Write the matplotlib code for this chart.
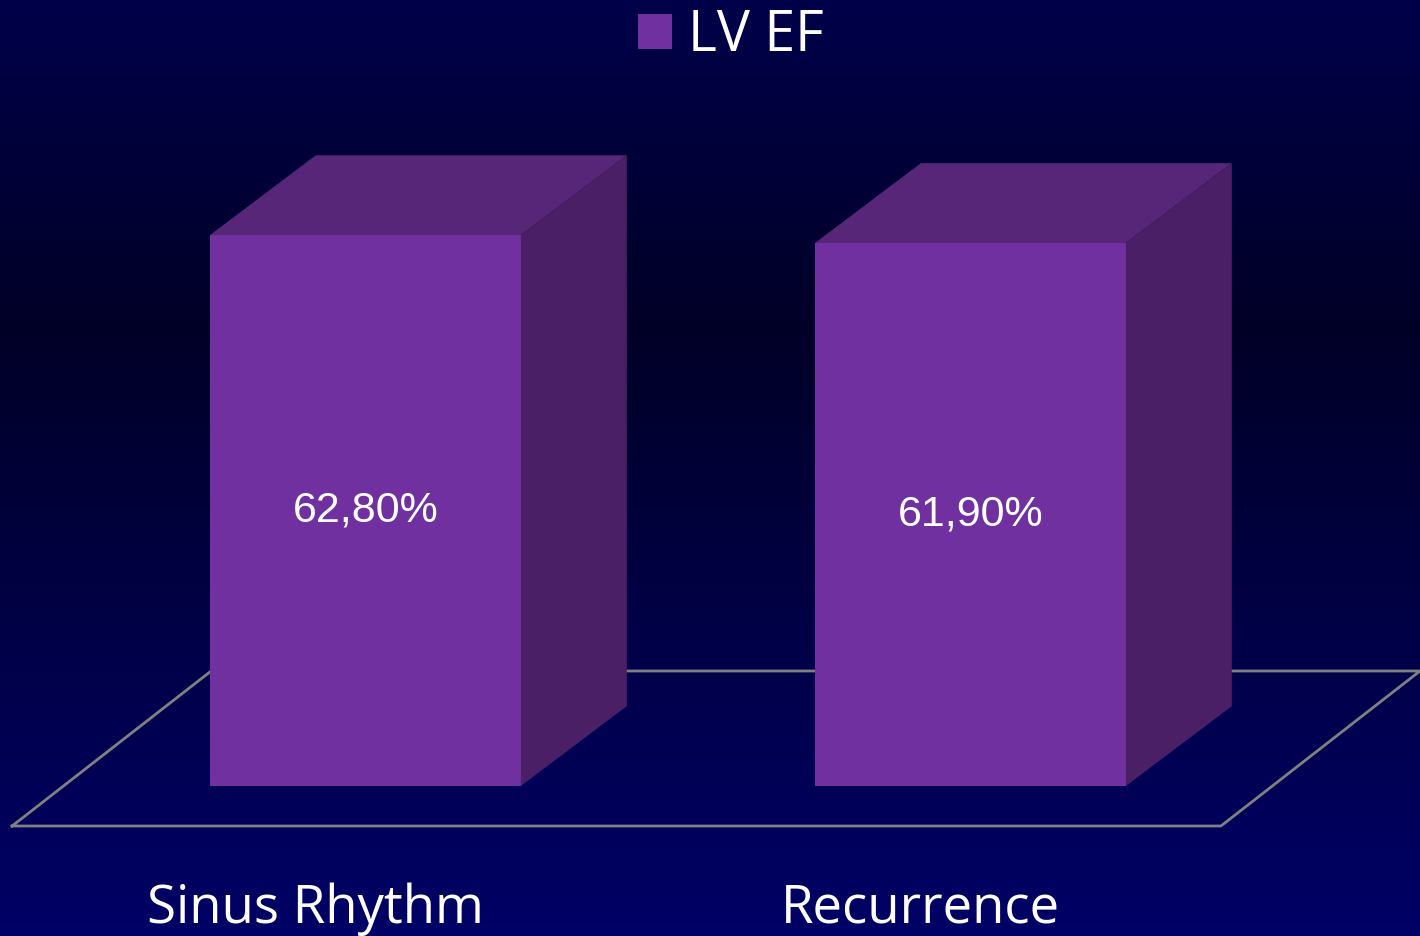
import numpy as np
import matplotlib
matplotlib.use("Agg")
import matplotlib.pyplot as plt
from matplotlib.colors import LinearSegmentedColormap
from matplotlib.patches import Polygon

# data
categories = ["Sinus Rhythm", "Recurrence"]
lv_ef = [62.8, 61.9]
series_name = "LV EF"

# colours
FRONT = "#7030A0"
TOP = "#572679"
SIDE = "#4A1F66"
FLOOR_LINE = "#808080"

# 3d geometry (data units: categories on x, percent on y)
BAR_W = 0.514
BAR_DX, BAR_DY = 0.175, 9.1
FLOOR_FRONT_Y = -4.56
FLOOR_X0, FLOOR_X1 = -0.584, 1.414
FLOOR_DX, FLOOR_DY = 0.329, 17.67
LABEL_SHIFT = -0.083

fig = plt.figure(figsize=(14.2, 9.36), dpi=100)

# gradient background
bg = fig.add_axes([0, 0, 1, 1])
cmap = LinearSegmentedColormap.from_list(
    "bg", [(0.0, "#00004a"), (0.35, "#000027"), (0.75, "#00004e"), (1.0, "#000066")])
grad = np.linspace(0, 1, 512).reshape(-1, 1)
bg.imshow(grad, cmap=cmap, aspect="auto", extent=[0, 1, 1, 0])
bg.set_xlim(0, 1)
bg.set_ylim(1, 0)
bg.axis("off")

ax = fig.add_axes([0, 0, 1, 1])
ax.patch.set_alpha(0)
ax.set_xlim(-0.604, 1.743)
ax.set_ylim(-17.1, 89.6)
ax.axis("off")

x = np.arange(len(categories))

# floor outline
fx = [FLOOR_X0, FLOOR_X1, FLOOR_X1 + FLOOR_DX, FLOOR_X0 + FLOOR_DX, FLOOR_X0]
fy = [FLOOR_FRONT_Y, FLOOR_FRONT_Y, FLOOR_FRONT_Y + FLOOR_DY,
      FLOOR_FRONT_Y + FLOOR_DY, FLOOR_FRONT_Y]
ax.plot(fx, fy, color=FLOOR_LINE, lw=2, zorder=1, clip_on=False)

# bars
ax.bar(x, lv_ef, width=BAR_W, color=FRONT, label=series_name, zorder=3)
for xi, v in zip(x, lv_ef):
    l, r = xi - BAR_W / 2, xi + BAR_W / 2
    top = [(l, v), (r, v), (r + BAR_DX, v + BAR_DY), (l + BAR_DX, v + BAR_DY)]
    side = [(r, 0), (r + BAR_DX, BAR_DY), (r + BAR_DX, v + BAR_DY), (r, v)]
    ax.add_patch(Polygon(top, closed=True, facecolor=TOP, edgecolor="none", zorder=3))
    ax.add_patch(Polygon(side, closed=True, facecolor=SIDE, edgecolor="none", zorder=3))
    ax.text(xi, v / 2, f"{v:.2f}%".replace(".", ","), color="white",
            fontsize=31, family="Liberation Sans", ha="center", va="center", zorder=4)

# category labels
for xi, name in zip(x, categories):
    ax.text(xi + LABEL_SHIFT, -14.0, name, color="white", fontsize=38,
            family="Open Sans", ha="center", va="center")

leg = ax.legend(loc="upper center", bbox_to_anchor=(0.515, 1.045), frameon=False,
                handlelength=0.6, handleheight=0.6, handletextpad=0.3,
                prop={"family": "Open Sans", "size": 40})
for t in leg.get_texts():
    t.set_color("white")

fig.savefig("out.png", dpi=100)
